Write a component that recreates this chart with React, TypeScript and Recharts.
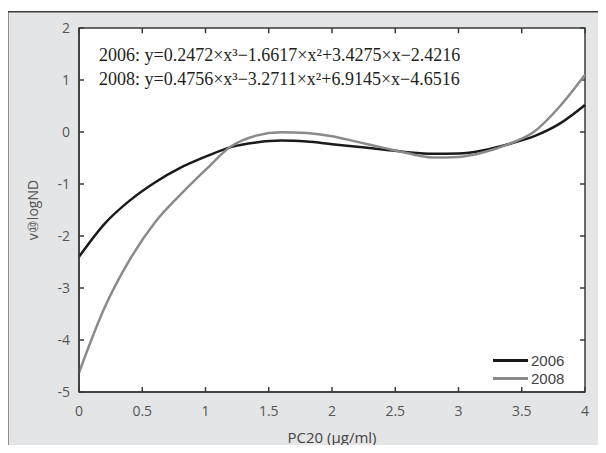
import React from 'react';
import { LineChart, Line, XAxis, YAxis, Legend, ReferenceLine, Customized } from 'recharts';

// values
const pc20 = [0, 0.2, 0.4, 0.6, 0.8, 1.0, 1.2, 1.4, 1.6, 1.8, 2.0, 2.2, 2.4, 2.6, 2.8, 3.0, 3.2, 3.4, 3.6, 3.8, 4.0];
const nd2006 = [-2.4, -1.77, -1.32, -0.97, -0.69, -0.475, -0.29, -0.2, -0.165, -0.185, -0.235, -0.285, -0.335, -0.39, -0.42, -0.415, -0.35, -0.23, -0.08, 0.16, 0.52];
const nd2008 = [-4.63, -3.39, -2.46, -1.74, -1.21, -0.73, -0.28, -0.07, -0.005, -0.02, -0.08, -0.19, -0.3, -0.41, -0.49, -0.48, -0.39, -0.23, 0.01, 0.49, 1.1];

const xTicks = [0, 0.5, 1, 1.5, 2, 2.5, 3, 3.5, 4];
const yTicks = [-5, -4, -3, -2, -1, 0, 1, 2];
const equations = [
  '2006: y=0.2472×x³−1.6617×x²+3.4275×x−2.4216',
  '2008: y=0.4756×x³−3.2711×x²+6.9145×x−4.6516',
];

const data = pc20.map((x, i) => ({ x, y2006: nd2006[i], y2008: nd2008[i] }));

const W = 599;
const H = 442;
const M = { top: 17, right: 21, bottom: 0, left: 0 };
const Y_AXIS_W = 72;
const X_AXIS_H = 61;

const tickStyle = { fontSize: 14, fill: '#555', fontFamily: 'Open Sans' };
const frame = '#3a3a3a';
const panel = '#e4e5e6';
const xMax = xTicks[xTicks.length - 1];
const yMax = yTicks[yTicks.length - 1];

// grey card behind everything, white plot box with a full frame
const Card = () => (
  <g>
    <rect x={0} y={0} width={W} height={H} fill={panel} />
    <line x1={0.75} y1={0} x2={0.75} y2={H} stroke={frame} strokeWidth={1.5} />
    <line x1={0} y1={0.75} x2={W} y2={0.75} stroke={frame} strokeWidth={1.5} />
    <rect
      x={M.left + Y_AXIS_W} y={M.top}
      width={W - M.left - Y_AXIS_W - M.right} height={H - M.top - M.bottom - X_AXIS_H}
      fill="#fff" stroke={frame} strokeWidth={1.5}
    />
  </g>
);

const renderLegend = (props: any) => (
  <div style={{ display: 'flex', flexDirection: 'column' }}>
    {(props.payload || []).map((p: any) => (
      <div key={p.value} style={{ display: 'flex', alignItems: 'center', height: 17.5 }}>
        <span style={{ display: 'inline-block', width: 35, height: 3, background: p.color, marginRight: 3 }} />
        <span style={{ fontSize: 15, color: '#444', fontFamily: 'Liberation Sans', lineHeight: '17px' }}>{p.value}</span>
      </div>
    ))}
  </div>
);

export default function App() {
  // body keeps its 8px margin, so everything below sits 8px in from the page corner
  return (
    <div style={{ position: 'relative', width: 598, height: 437 }}>
      <div
        style={{
          position: 'absolute', left: -1, top: 3, width: W, height: H, boxSizing: 'border-box',
          backgroundColor: panel, borderLeft: `1.5px solid ${frame}`, borderTop: `1.5px solid ${frame}`,
        }}
      />
      <div style={{ position: 'absolute', left: -1, top: 3 }}>
        <LineChart width={W} height={H} data={data} margin={M}>
          <Customized component={Card} />
          <XAxis
            dataKey="x" type="number" domain={[0, 4]} ticks={xTicks} height={X_AXIS_H}
            tickSize={-5} tickMargin={19} tick={tickStyle}
            axisLine={{ stroke: frame, strokeWidth: 1.5 }} tickLine={{ stroke: frame, strokeWidth: 1.5 }}
            label={{ value: 'PC20 (μg/ml)', position: 'insideBottom', offset: 10, style: { fontSize: 15, fill: '#444', fontFamily: 'Open Sans' } }}
          />
          <YAxis
            type="number" domain={[-5, 2]} ticks={yTicks} width={Y_AXIS_W}
            tickSize={-5} tickMargin={14} tick={tickStyle}
            axisLine={{ stroke: frame, strokeWidth: 1.5 }} tickLine={{ stroke: frame, strokeWidth: 1.5 }}
            label={{ value: 'v⑩logND', angle: -90, position: 'insideLeft', offset: 26, style: { fontSize: 14, fill: '#555', fontFamily: 'Open Sans', textAnchor: 'middle' } }}
          />
          {/* inward ticks on the top and right edges */}
          {xTicks.map((t) => (
            <ReferenceLine key={`tx${t}`} segment={[{ x: t, y: yMax }, { x: t, y: yMax - 0.1 }]} stroke={frame} strokeWidth={1.5} />
          ))}
          {yTicks.map((t) => (
            <ReferenceLine key={`ty${t}`} segment={[{ x: xMax, y: t }, { x: xMax - 0.04, y: t }]} stroke={frame} strokeWidth={1.5} />
          ))}
          <Legend
            layout="vertical" align="center" verticalAlign="middle"
            content={renderLegend}
            wrapperStyle={{ left: 486, top: 341, width: 'auto' }}
          />
          <Line dataKey="y2006" name="2006" type="monotone" stroke="#1a1a1a" strokeWidth={2.5} dot={false} isAnimationActive={false} />
          <Line dataKey="y2008" name="2008" type="monotone" stroke="#8a8a8a" strokeWidth={2.5} dot={false} isAnimationActive={false} />
        </LineChart>
      </div>
      <div style={{ position: 'absolute', left: 91, top: 35, fontFamily: 'Liberation Serif', fontSize: 18, color: '#231f20', lineHeight: '24px', whiteSpace: 'nowrap' }}>
        {equations.map((e) => (
          <div key={e}>{e}</div>
        ))}
      </div>
    </div>
  );
}
